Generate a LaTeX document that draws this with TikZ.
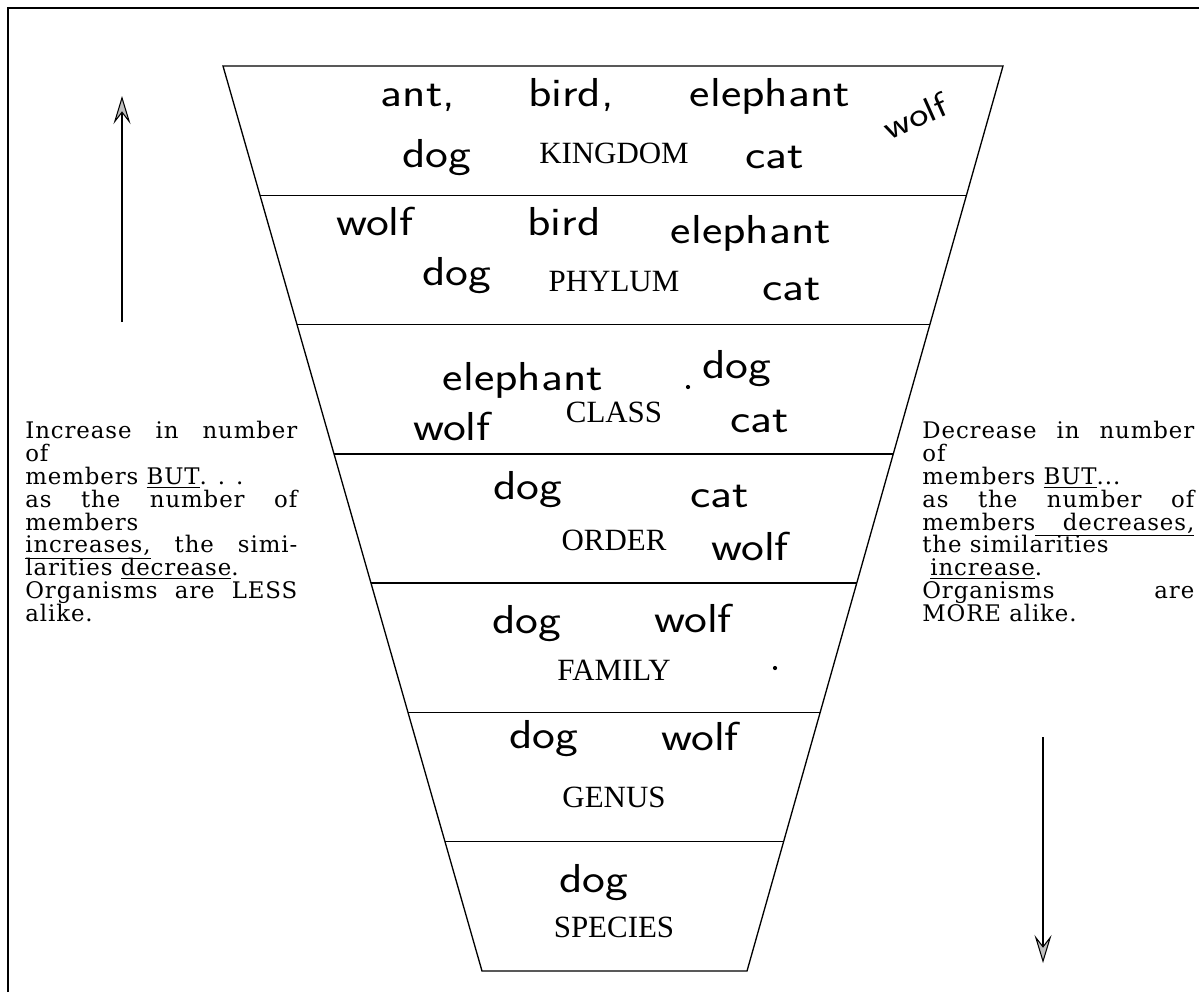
\documentclass[tikz,border=0pt]{standalone}
\usepackage{fontspec}
\usetikzlibrary{arrows.meta}
\newfontfamily\sidefont{DejaVu Serif}[LetterSpace=4]
\newfontfamily\labelfont{Liberation Serif}
\newfontfamily\handfont{lmsans17-regular.otf}
\newlength\blockw
\setlength\blockw{5.44cm}
\setlength\lineskiplimit{-20pt}
\newcommand\handw[1]{\scalebox{1.2}[1]{#1}}
\begin{document}
\begin{tikzpicture}[x=0.02cm,y=-0.02cm,
  frameline/.style={line width=1.1pt},
  edgeline/.style={line width=0.75pt},
  bigarrow/.style={line width=1.3pt,-{Stealth[length=0.56cm,width=0.34cm,inset=0.22cm,line width=0.6pt,fill=gray!50]}},
  rank/.style={font=\labelfont\fontsize{17.6pt}{17.6pt}\selectfont,inner sep=0pt,anchor=base},
  hand/.style={font=\handfont\fontsize{23pt}{23pt}\selectfont,inner sep=0pt,anchor=base},
  side/.style={font=\sidefont\fontsize{13pt}{13pt}\selectfont,inner sep=0pt,align=left,anchor=north west},
  dotmark/.style={circle,fill=black,inner sep=0pt,minimum size=2.4pt}
]
\useasboundingbox (0,0) rectangle (1199,992);

% frame (top and left)
\coordinate (fbl) at (8,992);
\coordinate (ftl) at (8,8);
\coordinate (ftr) at (1199,8);
\draw[frameline] (fbl) -- (ftl) -- (ftr);

% trapezoid
\foreach \i/\yy/\l/\r in {0/66/223/1003,1/195.3/260/966.4,2/324.6/297/929.8,3/453.9/334/893.3,4/583.1/371/856.7,5/712.4/408/820.1,6/841.7/445/783.5,7/971/482/747}{
  \coordinate (L\i) at (\l,\yy);
  \coordinate (R\i) at (\r,\yy);
}
\draw[edgeline] (L0) -- (R0) -- (R7) -- (L7) -- cycle;
\foreach \i in {1,...,6}{\draw[edgeline] (L\i) -- (R\i);}

% rank labels
\node[rank] (kingdom) at (614,163) {KINGDOM};
\node[rank] (phylum)  at (614,291) {PHYLUM};
\node[rank] (class)   at (614,422) {CLASS};
\node[rank] (order)   at (614,550) {ORDER};
\node[rank] (family)  at (614,680) {FAMILY};
\node[rank] (genus)   at (614,807) {GENUS};
\node[rank] (species) at (614,937) {SPECIES};

% handwritten members
\node[hand] (k1) at (418,106) {\handw{ant,}};
\node[hand] (k2) at (571,106) {\handw{bird,}};
\node[hand] (k3) at (770,106) {\handw{elephant}};
\node[hand] (k4) at (437,167) {\handw{dog}};
\node[hand] (k5) at (775,168) {\handw{cat}};
\node[hand,anchor=center,rotate=24,scale=0.85] (k6) at (915,116) {\handw{wolf}};

\node[hand] (p1) at (375,235) {\handw{wolf}};
\node[hand] (p2) at (564,235) {\handw{bird}};
\node[hand] (p3) at (751,243) {\handw{elephant}};
\node[hand] (p4) at (457,285) {\handw{dog}};
\node[hand] (p5) at (792,300) {\handw{cat}};

\node[hand] (c1) at (523,390) {\handw{elephant}};
\node[dotmark] (c0) at (688,387) {};
\node[hand] (c2) at (737,378) {\handw{dog}};
\node[hand] (c3) at (452,440) {\handw{wolf}};
\node[hand] (c4) at (760,432) {\handw{cat}};

\node[hand] (o1) at (528,499) {\handw{dog}};
\node[hand] (o2) at (720,507) {\handw{cat}};
\node[hand] (o3) at (750,560) {\handw{wolf}};

\node[hand] (f1) at (527,633) {\handw{dog}};
\node[hand] (f2) at (693,632) {\handw{wolf}};
\node[dotmark] (f0) at (775,668) {};

\node[hand] (g1) at (544,748) {\handw{dog}};
\node[hand] (g2) at (700,750) {\handw{wolf}};

\node[hand] (s1) at (594,892) {\handw{dog}};

% side texts
\node[side] (lefttext) at (25,421) {%
\makebox[\blockw][s]{Increase in number}\\
of\\
members \underline{BUT}. . .\\
\makebox[\blockw][s]{as the number of}\\
members\\
\makebox[\blockw][s]{\underline{increases,} the simi-}\\
larities \underline{decrease}.\\
\makebox[\blockw][s]{Organisms are LESS}\\
alike.};

\node[side] (righttext) at (922,421) {%
\makebox[\blockw][s]{Decrease in number}\\
of\\
members \underline{BUT}...\\
\makebox[\blockw][s]{as the number of}\\
\setbox0\hbox{members}\hbox to\blockw{members\underline{\hbox to \dimexpr\blockw-\wd0\relax{\hfill decreases,}}}\\
the similarities\\
\hspace*{0.35em}\underline{increase}.\\
\makebox[\blockw][s]{Organisms are}\\
MORE alike.};

% arrows
\coordinate (la0) at (122,322);
\coordinate (la1) at (122,96);
\draw[bigarrow] (la0) -- (la1);
\coordinate (ra0) at (1043,737);
\coordinate (ra1) at (1043,963);
\draw[bigarrow] (ra0) -- (ra1);
\end{tikzpicture}
\end{document}
